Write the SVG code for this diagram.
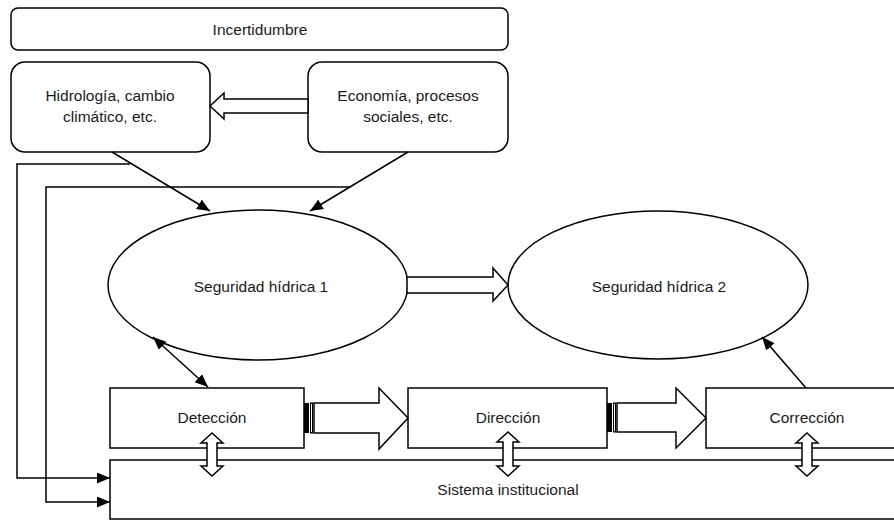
<svg xmlns="http://www.w3.org/2000/svg" width="894" height="520" viewBox="0 0 894 520">
<style>
.s{fill:#fff;stroke:#000;stroke-width:1.5}
.l{fill:none;stroke:#000;stroke-width:1.5}
.t{font-family:"Liberation Sans",Arial,sans-serif;font-size:15.5px;fill:#1a1a1a;text-anchor:middle}
.h{fill:#fff;stroke:#000;stroke-width:1.5;stroke-linejoin:miter}
</style>
<defs>
<marker id="ah" markerUnits="userSpaceOnUse" markerWidth="14" markerHeight="12" refX="13" refY="5.5" orient="auto-start-reverse">
<path d="M0,0 L13,5.5 L0,11 z" fill="#000"/>
</marker>
</defs>
<g id="incertidumbre"><rect class="s" x="11" y="8" width="497" height="42" rx="7"/><text class="t" x="260" y="35">Incertidumbre</text></g>
<g id="hidrologia"><rect class="s" x="11" y="62" width="199" height="90" rx="14"/><text class="t" x="110" y="101">Hidrología, cambio</text><text class="t" x="110" y="122">climático, etc.</text></g>
<g id="economia"><rect class="s" x="308" y="62" width="200" height="90" rx="14"/><text class="t" x="408" y="101">Economía, procesos</text><text class="t" x="408" y="122">sociales, etc.</text></g>
<g id="seguridad1"><ellipse class="s" cx="258" cy="285" rx="150" ry="75"/><text class="t" x="261" y="292">Seguridad hídrica 1</text></g>
<g id="seguridad2"><ellipse class="s" cx="658" cy="285" rx="150" ry="74"/><text class="t" x="659" y="292">Seguridad hídrica 2</text></g>
<g id="sistema"><rect class="s" x="110" y="460" width="800" height="59"/><text class="t" x="508" y="495">Sistema institucional</text></g>
<g id="deteccion"><rect class="s" x="110" y="388" width="194" height="60"/><text class="t" x="212" y="423">Detección</text></g>
<g id="direccion"><rect class="s" x="408" y="388" width="199" height="60"/><text class="t" x="508" y="423">Dirección</text></g>
<g id="correccion"><rect class="s" x="706" y="388" width="204" height="60"/><text class="t" x="807" y="423">Corrección</text></g>
<g id="connectors">
<polygon class="h" points="308,99 224,99 224,93 210,106 224,119 224,113 308,113"/>
<polygon class="h" points="407,277 493,277 493,268 508,285 493,301 493,293 407,293"/>
<rect x="304" y="403" width="5" height="30" fill="#000"/>
<rect x="310.5" y="403" width="2" height="30" fill="#fff" stroke="#000" stroke-width="1"/>
<polygon class="h" points="314,403 379,403 379,388 408,418 379,449 379,433 314,433"/>
<rect x="607" y="403" width="5" height="29" fill="#000"/>
<rect x="613.5" y="403" width="2" height="29" fill="#fff" stroke="#000" stroke-width="1"/>
<polygon class="h" points="617,403 676,403 676,388 706,418 676,448 676,432 617,432"/>
<polygon class="h" points="212,433 223,443 217,443 217,466 223,466 212,476 201,466 207,466 207,443 201,443"/>
<polygon class="h" points="508,432 519,442 513,442 513,466 519,466 508,476 497,466 503,466 503,442 497,442"/>
<polygon class="h" points="807,433 818,443 812,443 812,466 818,466 807,476 796,466 802,466 802,443 796,443"/>
<line class="l" x1="112" y1="152" x2="210" y2="211" marker-end="url(#ah)"/>
<line class="l" x1="408" y1="152" x2="310" y2="211" marker-end="url(#ah)"/>
<polyline class="l" points="130,164 17,164 17,478 110,478" marker-end="url(#ah)"/>
<polyline class="l" points="350,187 46,187 46,502 110,502" marker-end="url(#ah)"/>
<line class="l" x1="153" y1="337" x2="208" y2="387" marker-start="url(#ah)" marker-end="url(#ah)"/>
<line class="l" x1="806" y1="388" x2="762" y2="337" marker-end="url(#ah)"/>
</g>
</svg>
